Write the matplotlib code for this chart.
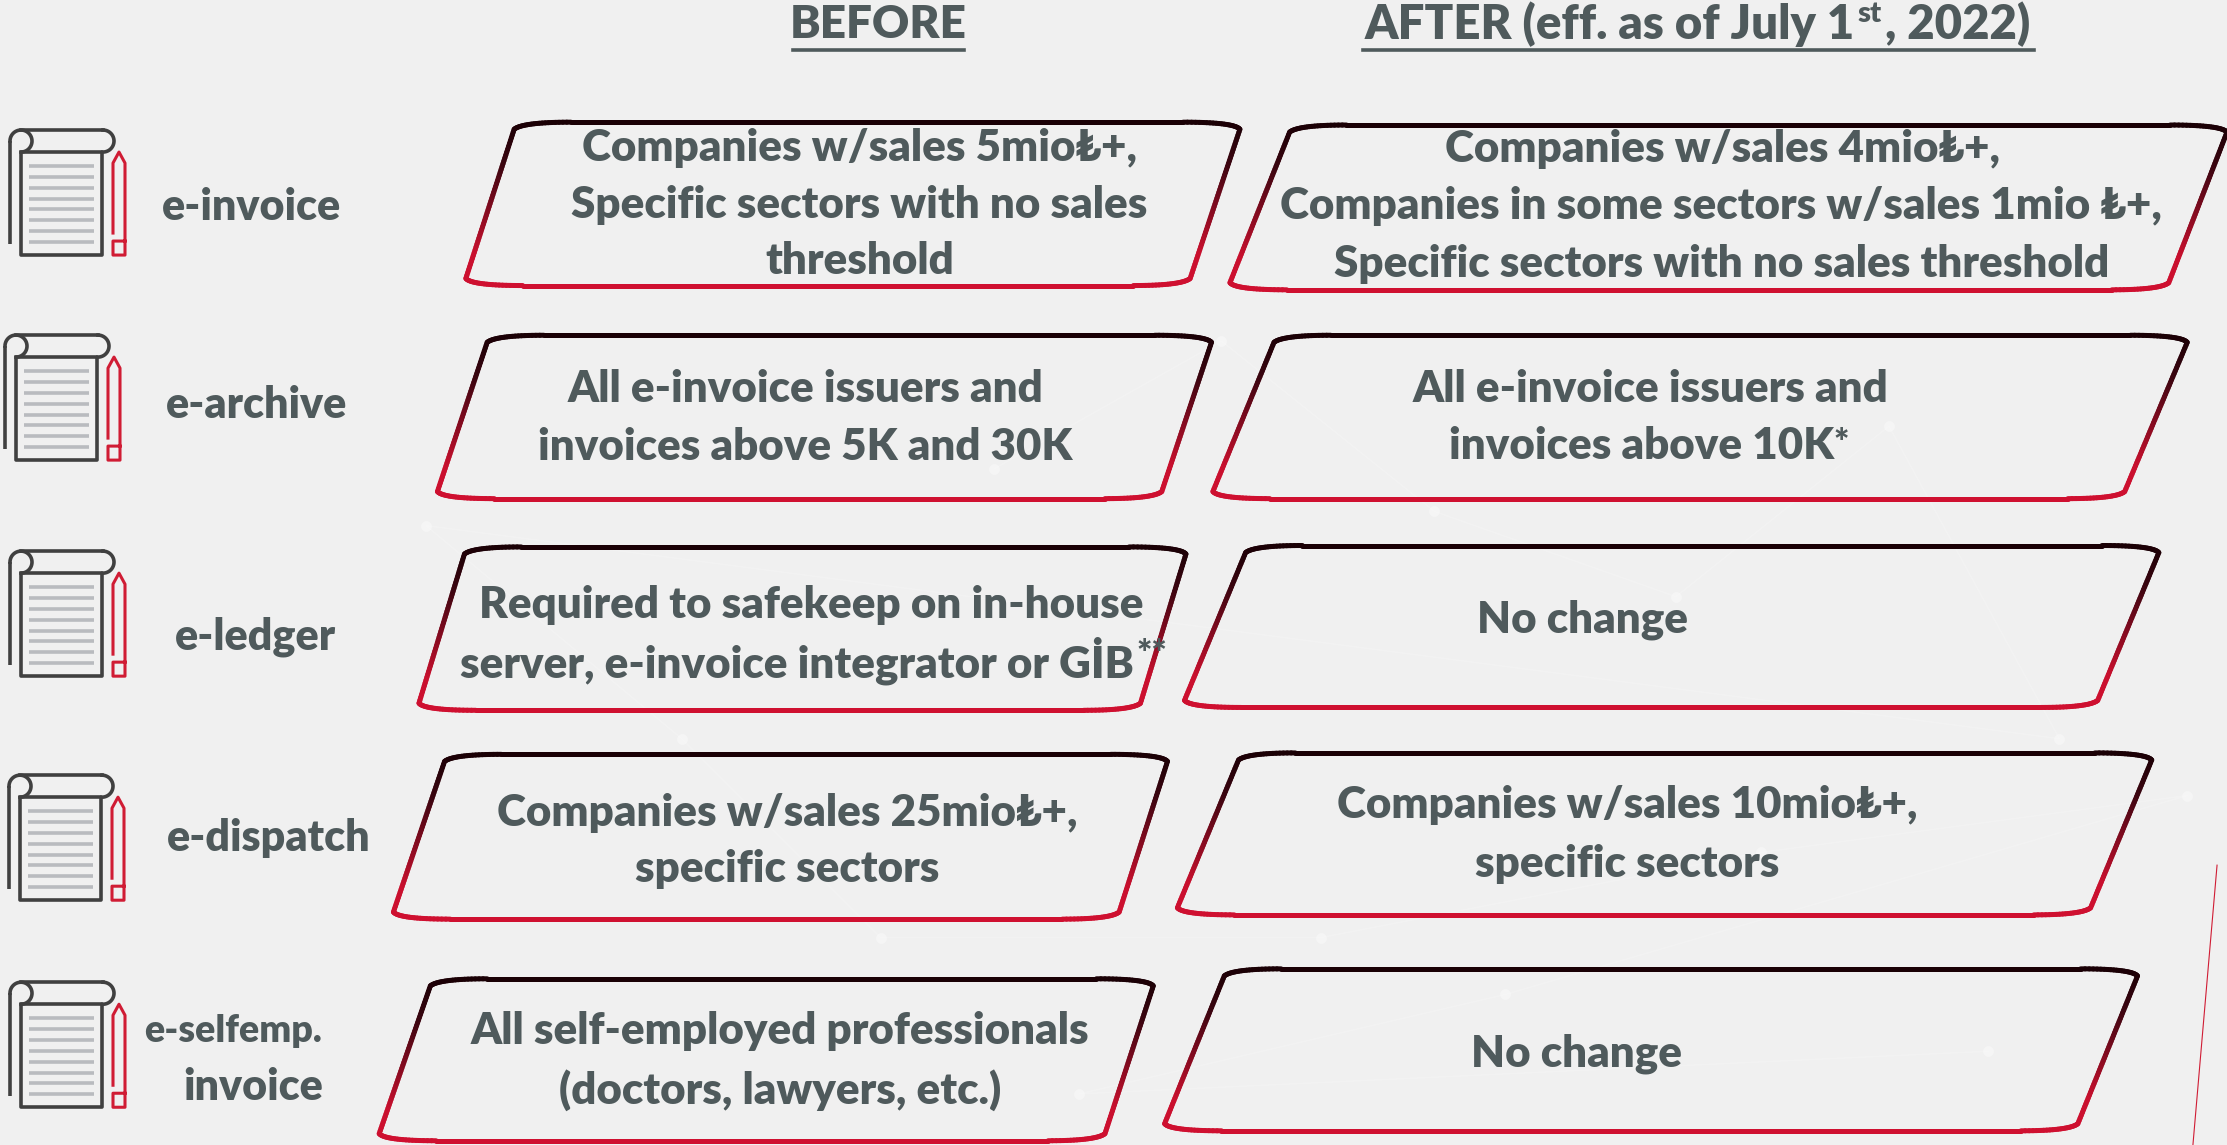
import numpy as np
import matplotlib
matplotlib.use('Agg')
import matplotlib.pyplot as plt
from matplotlib.collections import LineCollection
from matplotlib.colors import LinearSegmentedColormap
from matplotlib.patches import Rectangle

plt.rcParams['font.family'] = ['Lato', 'DejaVu Sans']

TXT = '#4f5a5c'
DARK = '#404040'
RED = '#d01c34'
GREY = '#b9bbbf'
S = 2227 / 1568
W = 'heavy'

# row labels
labels = ['e-invoice', 'e-archive', 'e-ledger', 'e-dispatch', 'e-selfemp.', 'invoice']
label_x = [177, 181, 180, 189, 164, 178]
label_y = [146, 285, 448, 590, 726, 765]
label_size = [31, 31, 31, 31, 27, 31]

# box text
before_text = [
    ['Companies w/sales 5mio₺+,', 'Specific sectors with no sales', 'threshold'],
    ['All e-invoice issuers and', 'invoices above 5K and 30K'],
    ['Required to safekeep on in-house', 'server, e-invoice integrator or GİB'],
    ['Companies w/sales 25mio₺+,', 'specific sectors'],
    ['All self-employed professionals', '(doctors, lawyers, etc.)'],
]
after_text = [
    ['Companies w/sales 4mio₺+,', 'Companies in some sectors w/sales 1mio ₺+,', 'Specific sectors with no sales threshold'],
    ['All e-invoice issuers and', 'invoices above 10K'],
    ['No change'],
    ['Companies w/sales 10mio₺+,', 'specific sectors'],
    ['No change'],
]
before_tx = [[605, 605, 605], [567, 567], [571, 561], [554, 554], [549, 549]]
before_ty = [[104, 144, 184], [274, 315], [426, 465], [572, 612], [726, 767]]
after_tx = [[1213, 1212, 1212], [1162, 1156], [1114], [1146, 1146], [1110]]
after_ty = [[105, 145, 186], [274, 314], [436], [567, 608], [742]]

# outlines: top left x, top right x, bottom left x, bottom right x, top y, bottom y
before_box = [
    (362, 873, 328, 838, 86, 201),
    (343, 853, 308, 818, 236, 351),
    (327, 835, 295, 803, 385, 500),
    (313, 822, 277, 788, 531, 647),
    (303, 812, 267, 778, 689, 803),
]
after_box = [
    (908, 1568, 866, 1527, 88, 204),
    (897, 1540, 854, 1496, 236, 351),
    (877, 1520, 834, 1477, 384, 498),
    (872, 1515, 829, 1472, 530, 644),
    (862, 1505, 820, 1463, 682, 796),
]

icon_dx = [0, -5, 0, -1, 0]
icon_dy = [0, 205, 421, 645, 852]

# faint background network
net_x = [700, 860, 1010, 1180, 1330, 1450, 300, 480, 620, 930, 1240, 1540, 1060, 760, 1400]
net_y = [330, 240, 360, 420, 300, 520, 370, 520, 660, 660, 600, 560, 700, 770, 740]

cmap = LinearSegmentedColormap.from_list('edge', [(0, '#1a0005'), (0.25, '#3a0510'), (0.8, '#c8102e'), (1, '#cf1030')])


def curve(p0, c, p1):
    t = np.linspace(0, 1, 24)[:, None]
    return (1 - t) ** 2 * np.array(p0) + 2 * t * (1 - t) * np.array(c) + t ** 2 * np.array(p1)


def box(ax, tl, tr, bl, br, top, bot):
    d = 5
    run = 40
    pts = np.vstack([
        curve((tl, top + d), (tl + 6, top), (tl + run, top)),
        curve((tr - run, top), (tr - 4, top), (tr, top + d)),
        curve((br, bot - d), (br - 6, bot), (br - run, bot)),
        curve((bl + run, bot), (bl + 4, bot), (bl, bot - d)),
    ])
    pts = np.vstack([pts, pts[:1]])
    # fill in the long sides so the colour runs smoothly
    fine = []
    for a, b in zip(pts[:-1], pts[1:]):
        n = max(int(abs(b[1] - a[1]) / 2), 1)
        fine.append(np.linspace(a, b, n, endpoint=False))
    fine = np.vstack(fine + [pts[-1:]])
    segs = np.stack([fine[:-1], fine[1:]], axis=1)
    lc = LineCollection(segs, cmap=cmap, linewidths=3.6, capstyle='round', zorder=3)
    lc.set_array((fine[:-1, 1] - top) / (bot - top))
    lc.set_clim(0, 1)
    ax.add_collection(lc)


def icon(ax, dx, dy):
    def px(xs, ys):
        return (np.array(xs) + dx) / S, (np.array(ys) + dy) / S

    th = np.linspace(np.pi, 2.5 * np.pi, 40)
    # scroll
    x, y = px(10, 244)
    x2, y2 = px(10, 141)
    ax.plot([x, x2], [y, y2], color=DARK, lw=2.6, solid_capstyle='butt')
    x, y = px(21 + 11 * np.cos(th), 141 + 11 * np.sin(th))
    ax.plot(x, y, color=DARK, lw=2.6)
    x, y = px([21, 103], [130, 130])
    ax.plot(x, y, color=DARK, lw=2.6)
    th2 = np.linspace(-np.pi / 2, np.pi / 2, 30)
    x, y = px(103 + 11 * np.cos(th2), 141 + 11 * np.sin(th2))
    ax.plot(x, y, color=DARK, lw=2.6)
    # page
    x, y = px(21, 152)
    ax.add_patch(Rectangle((x, y), 81 / S, 103 / S, fill=False, ec=DARK, lw=2.6, joinstyle='round'))
    for yy in np.linspace(166, 242, 8):
        x, y = px([29, 94], [yy, yy])
        ax.plot(x, y, color=GREY, lw=2.6, solid_capstyle='butt')
    # pencil
    x, y = px([113, 113, 119, 125, 125, 113, 113, 125], [233, 163, 152, 163, 255, 255, 241, 241])
    ax.plot(x, y, color=RED, lw=2.2, solid_joinstyle='round')


fig = plt.figure(figsize=(22.27, 11.45), dpi=100, facecolor='#f0f0f0')
ax = fig.add_axes([0, 0, 1, 1])
ax.set_xlim(0, 1568)
ax.set_ylim(806, 0)
ax.axis('off')

ax.plot(net_x, net_y, color='white', lw=1, alpha=0.2, zorder=0)
ax.scatter(net_x, net_y, s=60, color='white', alpha=0.35, lw=0, zorder=0)

# headings
ax.text(618, 17, 'BEFORE', fontsize=33, fontweight=W, color=TXT, ha='center', va='center')
ax.plot([558, 679], [35, 35], color=TXT, lw=2.6)
ax.text(1306, 17, 'AFTER (eff. as of July 1', fontsize=34, fontweight=W, color=TXT, ha='right', va='center')
ax.text(1308, 10, 'st', fontsize=21, fontweight=W, color=TXT, ha='left', va='center')
ax.text(1327, 17, ', 2022)', fontsize=34, fontweight=W, color=TXT, ha='left', va='center')
ax.plot([960, 1432], [35, 35], color=TXT, lw=2.6)

for dx, dy in zip(icon_dx, icon_dy):
    icon(ax, dx, dy)

for name, x, y, size in zip(labels, label_x, label_y, label_size):
    ax.text(x, y, name, fontsize=size, fontweight=W, color=TXT, ha='center', va='center')

for boxes, texts, tx, ty in [(before_box, before_text, before_tx, before_ty),
                             (after_box, after_text, after_tx, after_ty)]:
    for b, lines, xs, ys in zip(boxes, texts, tx, ty):
        box(ax, *b)
        for line, x, y in zip(lines, xs, ys):
            ax.text(x, y, line, fontsize=31.6, fontweight=W, color=TXT, ha='center', va='center', zorder=4)

# footnote marks
ax.text(800, 461, '**', fontsize=26, fontweight=W, color=TXT, ha='left', va='center', zorder=4)
ax.text(1291, 312, '*', fontsize=26, fontweight=W, color=TXT, ha='left', va='center', zorder=4)

# thin red line at the right edge
ax.plot([1561, 1544], [609, 806], color=RED, lw=0.8)

fig.savefig('out.png', dpi=100, facecolor=fig.get_facecolor())
